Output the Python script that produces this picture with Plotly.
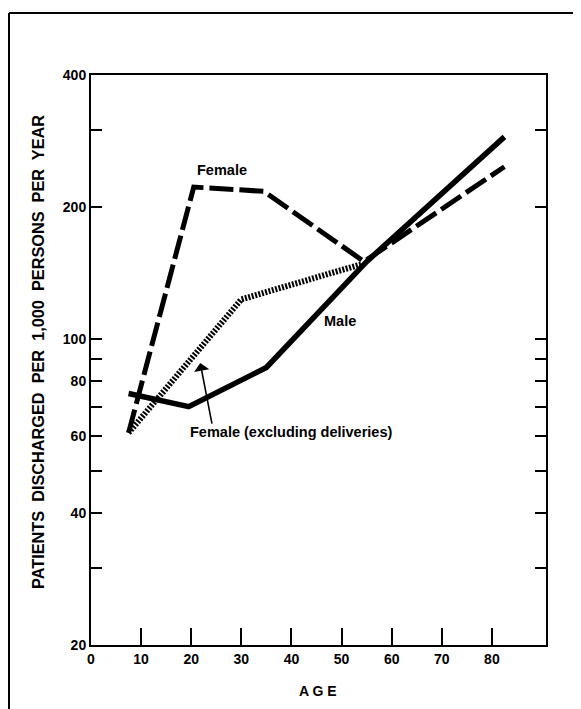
import math
import plotly.graph_objects as go

# ---- data ----
male_age = [7.5, 19.5, 35, 55, 82.5]
male_rate = [75, 70, 86, 150, 289]

female_age = [7.5, 20.5, 34.5, 54.5, 82.5]
female_rate = [61, 222, 217, 150, 247]

excl_age = [7.5, 30, 54]
excl_rate = [61, 123, 148]

y_tick_vals = [20, 30, 40, 50, 60, 70, 80, 90, 100, 200, 300, 400]
y_tick_text = ["20", "", "40", "", "60", "", "80", "", "100", "200", "", "400"]
x_tick_vals = [0, 10, 20, 30, 40, 50, 60, 70, 80]
x_tick_text = ["0", "10", "20", "30", "40", "50", "60", "70", "80"]

FONT = "Liberation Sans"
OFF = 8  # page body margin

fig = go.Figure()
fig.add_trace(go.Scatter(x=female_age, y=female_rate, mode="lines",
                         line=dict(color="black", width=5, dash="24px,6px"),
                         name="Female"))
fig.add_trace(go.Scatter(x=excl_age, y=excl_rate, mode="lines",
                         line=dict(color="black", width=6, dash="2px,1.5px"),
                         name="Female (excluding deliveries)"))
fig.add_trace(go.Scatter(x=male_age, y=male_rate, mode="lines",
                         line=dict(color="black", width=5.5),
                         name="Male"))

W, H = 581, 709
L, T = 91 - OFF, 75 - OFF
R = W - (546 - OFF)
B = H - (645 - OFF)
pw, ph = W - L - R, H - T - B


def px2paper(px, py):
    # px, py in reference-image pixels
    return (px - OFF - L) / pw, (H - B - (py - OFF)) / ph


annots = [
    dict(text="<b>Female</b>", x=26.1, y=math.log10(243)),
    dict(text="<b>Male</b>", x=49.7, y=math.log10(110)),
    dict(text="<b>Female (excluding deliveries)</b>", x=39.9, y=math.log10(61.2)),
]
for a in annots:
    fig.add_annotation(xref="x", yref="y", showarrow=False,
                       xanchor="center", yanchor="middle",
                       font=dict(family=FONT, size=14.5, color="black"), **a)

# arrow from label to dotted line
fig.add_annotation(xref="x", yref="y", x=21.8, y=math.log10(88), text="",
                   showarrow=True, ax=12, ay=62, arrowhead=1, arrowsize=1.6,
                   arrowwidth=1.6, arrowcolor="black", standoff=0)

# y axis title
x0, y0 = px2paper(38, 352)
fig.add_annotation(xref="paper", yref="paper", x=x0, y=y0, showarrow=False,
                   xanchor="center", yanchor="middle", textangle=-90,
                   text="<b>PATIENTS  DISCHARGED  PER  1,000  PERSONS  PER  YEAR</b>",
                   font=dict(family=FONT, size=16.3, color="black"))
# x axis title
x0, y0 = px2paper(318, 691)
fig.add_annotation(xref="paper", yref="paper", x=x0, y=y0, showarrow=False,
                   xanchor="center", yanchor="middle",
                   text="<b>A G E</b>",
                   font=dict(family=FONT, size=14, color="black"))

# outer frame (top and left lines)
fx0, fy0 = px2paper(9, 13)
fx1, _ = px2paper(600, 13)
_, fy1 = px2paper(9, 720)
fig.add_shape(type="line", xref="paper", yref="paper", x0=fx0, y0=fy0, x1=fx1, y1=fy0,
              line=dict(color="black", width=2))
fig.add_shape(type="line", xref="paper", yref="paper", x0=fx0, y0=fy0, x1=fx0, y1=fy1,
              line=dict(color="black", width=2))

fig.update_layout(
    width=W, height=H,
    margin=dict(l=L, r=R, t=T, b=B),
    paper_bgcolor="white", plot_bgcolor="white",
    showlegend=False,
    font=dict(family=FONT, color="black"),
)
fig.update_xaxes(range=[0, 90.8], tickvals=x_tick_vals, ticktext=x_tick_text,
                 ticks="inside", ticklen=17, tickwidth=2, tickcolor="black",
                 showline=True, linecolor="black", linewidth=2, mirror=True,
                 showgrid=False, zeroline=False,
                 tickfont=dict(family=FONT, size=14, color="black", weight="bold"))
fig.update_yaxes(type="log", range=[math.log10(20), math.log10(400)],
                 tickvals=y_tick_vals, ticktext=y_tick_text,
                 ticks="inside", ticklen=11, tickwidth=2, tickcolor="black",
                 showline=True, linecolor="black", linewidth=2, mirror="ticks",
                 showgrid=False, zeroline=False,
                 tickfont=dict(family=FONT, size=14, color="black", weight="bold"))

fig.write_html("out.html")
